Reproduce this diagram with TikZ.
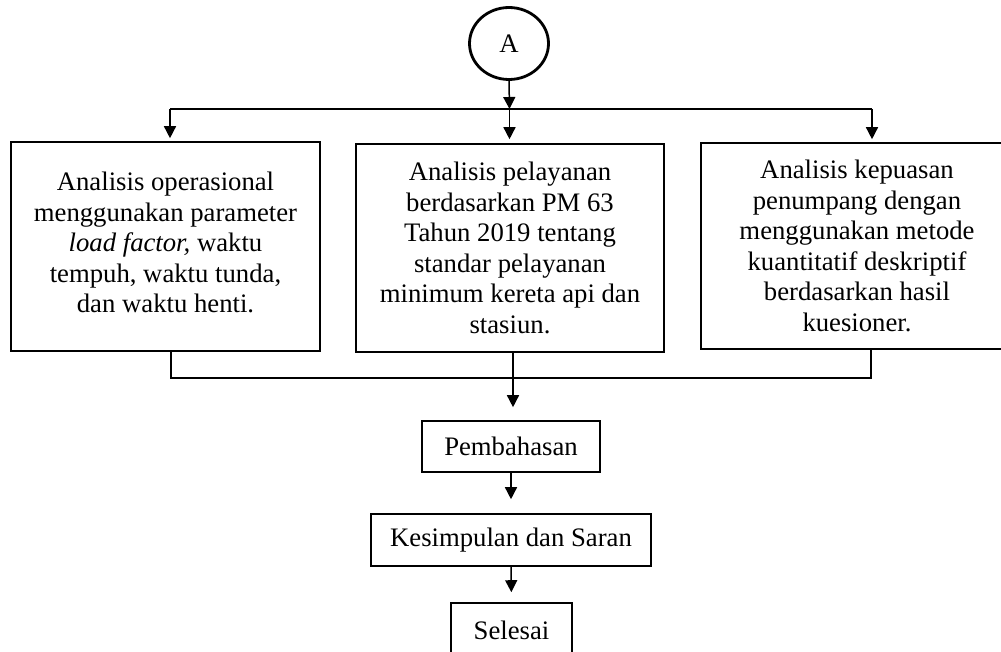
\documentclass[tikz,border=0pt]{standalone}
\usepackage{fontspec}
\setmainfont{Liberation Serif}
\usetikzlibrary{arrows.meta,shapes.geometric,calc}
\tikzset{
  box/.style={draw, line width=1.6pt, align=center, inner sep=0pt,
    font=\fontsize{26.7}{30.5}\selectfont},
  conn/.style={line width=1.5pt},
  arr/.style={conn, -{Triangle[width=12pt,length=12pt]}},
}
\begin{document}
\begin{tikzpicture}[x=1pt,y=-1pt]
\useasboundingbox (0,0) rectangle (1001,652);
\clip (0,0) rectangle (1001,652);
\fill[white] (0,0) rectangle (1001,652);
\node[draw, ellipse, line width=2.8pt, minimum width=79pt, minimum height=72pt, inner sep=0pt,
  font=\fontsize{26.7}{30.5}\selectfont] (A) at (509,43.5) {A};
\node[box, minimum width=309pt, minimum height=209pt, text depth=8pt] (b1) at (165.5,246.5)
  {Analisis operasional\\menggunakan parameter\\\textit{load factor,} waktu\\tempuh, waktu tunda,\\dan waktu henti.};
\node[box, minimum width=308pt, minimum height=208pt] (b2) at (510,248)
  {Analisis pelayanan\\berdasarkan PM 63\\Tahun 2019 tentang\\standar pelayanan\\minimum kereta api dan\\stasiun.};
\node[box, minimum width=312pt, minimum height=206pt] (b3) at (857,246)
  {Analisis kepuasan\\penumpang dengan\\menggunakan metode\\kuantitatif deskriptif\\berdasarkan hasil\\kuesioner.};
\node[box, minimum width=178pt, minimum height=51pt] (p) at (511,446.5) {Pembahasan};
\node[box, minimum width=280pt, minimum height=52pt] (k) at (511,540) {Kesimpulan dan Saran};
\node[box, minimum width=121pt, minimum height=54pt] (s) at (511.5,630) {Selesai};
% top distribution
\coordinate (t) at (509.5,109);
\coordinate (j1) at (170,109);
\coordinate (j3) at (872,109);
\draw[arr] (A.south) -- (t);
\draw[conn] (j1) -- (j3);
\draw[arr, shorten >=3pt] (j1) -- (j1 |- b1.north);
\draw[arr, shorten >=4pt] (t) -- (t |- b2.north);
\draw[arr, shorten >=3pt] (j3) -- (j3 |- b3.north);
% bottom merge
\coordinate (k1) at (171,378);
\coordinate (k2) at (513,378);
\coordinate (k3) at (871,378);
\draw[conn] (k1 |- b1.south) -- (k1) -- (k3) -- (k3 |- b3.south);
\draw[conn] (k2 |- b2.south) -- (k2);
\draw[arr, shorten >=13pt] (k2) -- (k2 |- p.north);
\draw[arr, shorten >=14pt] (p.south) -- (k.north);
\draw[arr, shorten >=10pt] (k.south) -- (s.north);
\end{tikzpicture}
\end{document}
